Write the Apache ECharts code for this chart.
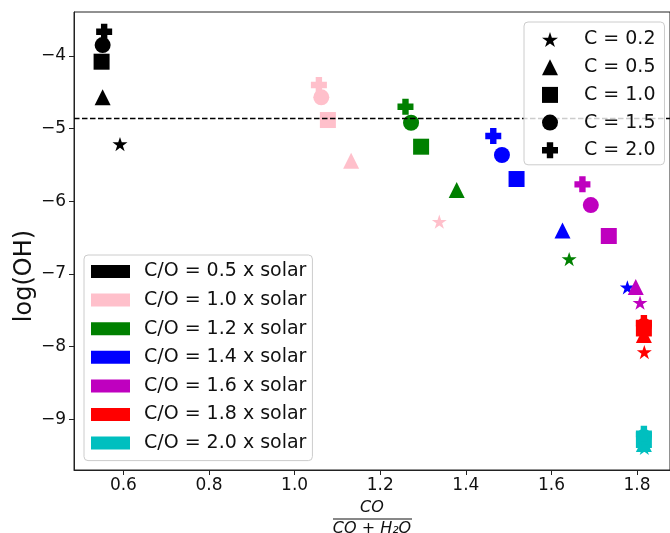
<!DOCTYPE html>
<html>
<head>
<meta charset="utf-8">
<script src="https://cdn.jsdelivr.net/npm/echarts@6/dist/echarts.min.js"></script>
<style>
  html, body { margin: 0; padding: 0; background: #fff; }
  #chart { width: 670px; height: 533px; }
</style>
</head>
<body>
<div id="chart"></div>
<script>
// ---- Data (order within each group: C = 0.2, 0.5, 1.0, 1.5, 2.0) ----
const coLabels = ['C/O = 0.5 x solar', 'C/O = 1.0 x solar', 'C/O = 1.2 x solar', 'C/O = 1.4 x solar',
                  'C/O = 1.6 x solar', 'C/O = 1.8 x solar', 'C/O = 2.0 x solar'];
const cLabels = ['C = 0.2', 'C = 0.5', 'C = 1.0', 'C = 1.5', 'C = 2.0'];

const xCO05 = [0.592, 0.5515, 0.549, 0.5515, 0.555];
const yCO05 = [-5.211, -4.568, -4.078, -3.849, -3.666];
const xCO10 = [1.338, 1.132, 1.0777, 1.0623, 1.0567];
const yCO10 = [-6.280, -5.441, -4.881, -4.568, -4.399];
const xCO12 = [1.6414, 1.3786, 1.2955, 1.272, 1.259];
const yCO12 = [-6.794, -5.844, -5.248, -4.918, -4.698];
const xCO14 = [1.7774, 1.6258, 1.5185, 1.4844, 1.4641];
const yCO14 = [-7.183, -6.402, -5.693, -5.3625, -5.101];
const xCO16 = [1.807, 1.797, 1.734, 1.692, 1.6724];
const yCO16 = [-7.395, -7.179, -6.477, -6.051, -5.766];
const xCO18 = [1.817, 1.816, 1.816, 1.816, 1.816];
const yCO18 = [-8.074, -7.840, -7.750, -7.716, -7.675];
const xCO20 = [1.817, 1.816, 1.816, 1.816, 1.816];
const yCO20 = [-9.395, -9.340, -9.285, -9.244, -9.198];

const xTicks = [0.6, 0.8, 1.0, 1.2, 1.4, 1.6, 1.8];
const yTicks = [-9, -8, -7, -6, -5, -4];
const refLine = -4.857;

// ---- Styles ----
const groupX = [xCO05, xCO10, xCO12, xCO14, xCO16, xCO18, xCO20];
const groupY = [yCO05, yCO10, yCO12, yCO14, yCO16, yCO18, yCO20];
const colors = ['#000000', '#ffc0cb', '#008000', '#0000ff', '#bf00bf', '#ff0000', '#00bfbf'];
const STAR = 'path://M0,-100 L-22.4,-30.8 L-95.1,-30.9 L-36.2,11.8 L-58.8,80.9 L0,38.1 L58.8,80.9 L36.2,11.8 L95.1,-30.9 L22.4,-30.8 Z';
const PLUS = 'path://M-10,-25 L10,-25 L10,-10 L25,-10 L25,10 L10,10 L10,25 L-10,25 L-10,10 L-25,10 L-25,-10 L-10,-10 Z';
const symbols = [STAR, 'triangle', 'rect', 'circle', PLUS];
const sizes = [15, 16, 16, 16, 16];
const FONT = '"DejaVu Sans", sans-serif';

const series = [];
groupX.forEach((xs, g) => {
  const data = xs.map((x, j) => ({
    value: [x, groupY[g][j]],
    symbol: symbols[j],
    symbolSize: sizes[j],
    symbolKeepAspect: true
  }));
  const s = {
    name: coLabels[g],
    type: 'scatter',
    data: data,
    itemStyle: { color: colors[g], opacity: 1 },
    emphasis: { disabled: true },
    z: 2
  };
  if (g === 0) {
    s.markLine = {
      silent: true,
      symbol: ['none', 'none'],
      label: { show: false },
      lineStyle: { color: '#000', type: [5.5, 2.5], width: 1.4, opacity: 1 },
      data: [{ yAxis: refLine }],
      animation: false
    };
  }
  series.push(s);
});
cLabels.forEach((name, j) => {
  series.push({
    name: name,
    type: 'scatter',
    data: [],
    symbol: symbols[j],
    symbolSize: sizes[j],
    symbolKeepAspect: true,
    itemStyle: { color: '#000', opacity: 1 }
  });
});

const chart = echarts.init(document.getElementById('chart'), null, { renderer: 'canvas' });
chart.setOption({
  animation: false,
  backgroundColor: '#fff',
  textStyle: { fontFamily: FONT },
  grid: {
    left: 74, top: 12, width: 597, height: 458,
    show: true, borderColor: '#222', borderWidth: 1, backgroundColor: 'transparent'
  },
  xAxis: {
    type: 'value',
    min: 0.48455, max: 1.877,
    axisLine: { show: true, lineStyle: { color: '#222', width: 1 } },
    axisTick: { show: true, customValues: xTicks, length: 5, lineStyle: { color: '#222' } },
    axisLabel: {
      customValues: xTicks, margin: 7, fontSize: 17, color: '#111', fontFamily: FONT,
      formatter: v => v.toFixed(1)
    },
    splitLine: { show: false }
  },
  yAxis: {
    type: 'value',
    min: -9.698, max: -3.394,
    axisLine: { show: true, lineStyle: { color: '#222', width: 1 } },
    axisTick: { show: true, customValues: yTicks, length: 5, lineStyle: { color: '#222' } },
    axisLabel: {
      customValues: yTicks, margin: 8, fontSize: 17, color: '#111', fontFamily: FONT,
      formatter: v => (v < 0 ? '\u2212' : '') + Math.abs(v)
    },
    splitLine: { show: false }
  },
  legend: [
    {
      data: coLabels.map(n => ({ name: n, icon: 'rect', itemStyle: { opacity: 1 } })),
      orient: 'vertical',
      left: 84, top: 255,
      padding: [7, 6, 8, 7],
      itemWidth: 39, itemHeight: 13, itemGap: 9.6,
      selectedMode: false,
      backgroundColor: 'rgba(255,255,255,0.8)',
      borderColor: '#cccccc', borderWidth: 1, borderRadius: 4,
      itemStyle: { opacity: 1 },
      textStyle: { fontSize: 19, lineHeight: 19, color: '#111', fontFamily: FONT, padding: [0, 0, 0, 9] },
      z: 10
    },
    {
      data: cLabels.map(n => ({ name: n, itemStyle: { opacity: 1 } })),
      orient: 'vertical',
      left: 524, top: 22,
      padding: [8, 9, 5, 18],
      itemWidth: 16, itemHeight: 16, itemGap: 8.7,
      selectedMode: false,
      backgroundColor: 'rgba(255,255,255,0.8)',
      borderColor: '#cccccc', borderWidth: 1, borderRadius: 4,
      itemStyle: { opacity: 1 },
      textStyle: { fontSize: 19, lineHeight: 19, color: '#111', fontFamily: FONT, padding: [0, 0, 0, 21] },
      z: 10
    }
  ],
  graphic: [
    {
      type: 'text', x: 25, y: 276, rotation: Math.PI / 2,
      style: { text: 'log(OH)', textAlign: 'center', textVerticalAlign: 'middle',
               font: '24px "DejaVu Sans", sans-serif', fill: '#111' }
    },
    {
      type: 'text', x: 372, y: 508,
      style: { text: 'CO', textAlign: 'center', textVerticalAlign: 'middle',
               font: 'italic 16px "DejaVu Sans", sans-serif', fill: '#111' }
    },
    {
      type: 'line', shape: { x1: 333, y1: 519, x2: 412, y2: 519 },
      style: { stroke: '#111', lineWidth: 1 }
    },
    {
      type: 'text', x: 372, y: 529,
      style: { text: 'CO + H\u2082O', textAlign: 'center', textVerticalAlign: 'middle',
               font: 'italic 16px "DejaVu Sans", sans-serif', fill: '#111' }
    }
  ],
  series: series
});
</script>
</body>
</html>
